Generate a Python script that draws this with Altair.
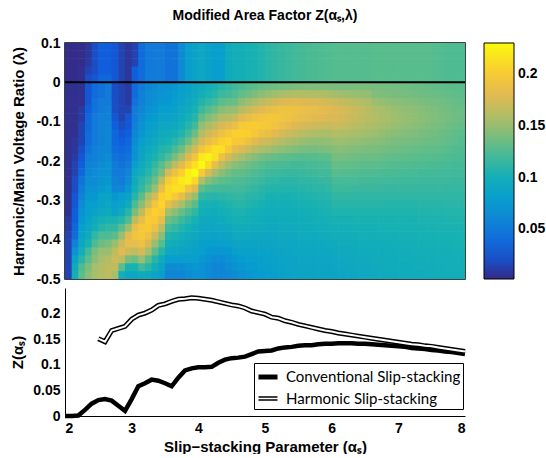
import altair as alt
import pandas as pd

# ---------------- heatmap data ----------------
# cell left edges along alpha_s (step 0.1) and lower edges along lambda (step 0.02)
ALPHA_LEFT = [round(2.0 + 0.1 * i, 2) for i in range(60)]
LAMBDA_LOW = [round(-0.5 + 0.02 * j, 2) for j in range(30)]

# Z in hundredths, one list per alpha column.
# Z_BELOW: 25 cells from lambda=-0.5 up to 0 ; Z_ABOVE: 5 cells from 0 up to 0.1
Z_BELOW = [
    [1.5,1.5,1.5,1.5,1.5,1.5,1,1,0.5,0.5,0.5,0.5,0.5,0.5,0.5,0.5,0.5,0.5,0.5,0.5,0.5,0.5,0.5,0.5,0.5],
    [10,9.5,8.5,7,5.5,4,3.5,3,3,2.5,2.5,2,2,1.5,1.5,1,0.8,0.8,0.5,0.5,0.5,0.5,0.5,0.5,0.5],
    [13,12.5,11,10,9,8.5,8,7.5,7,6.5,5.5,5,4.5,3.5,3,2.5,2,1.5,1.5,1.5,1,1,0.5,0.5,0.5],
    [14.5,14,13,12,10.5,9.5,9,8.5,8,8,7.5,7,6.5,6,5.5,5,4.5,4,4,3.5,3.5,3,2.5,2.5,2.5],
    [15.5,15.5,14.5,14,12.5,11.5,10,9.5,8.5,8,7.5,7,6.5,6.5,6,5.5,5.5,5,5,5,5,4.5,4.5,4,4],
    [16,16,15.5,15,13.5,12.5,11,10,9,8.5,8.5,7.5,7,7,6.5,6,6,5.5,5.5,5.5,5.5,5,5,4.5,4.5],
    [16.5,16.5,16,15,14,12.5,11.5,10.5,9.5,9,8.5,8,7.5,7,7,6.5,6,6,6,6,5.5,5.5,5,5,5],
    [15.5,16.5,17,16.5,15,13,11.5,10.5,8.5,8,7.5,6,5.5,5,5,4.5,4,3.5,3.5,3,2.5,2,2,2,2],
    [10,13,16.5,18,17,15,13,11,9.5,8.5,8,6,5,5,4.5,4,3.5,3,2.5,2,1.5,1.5,1.5,1.5,1.5],
    [9,10.5,14,17,18.5,18,15,12.5,11,9.5,8.5,7.5,6.5,6,5,4.5,4,3.5,3,2.5,2.5,1.5,1,1,1],
    [9,10.5,13.5,16.5,18.5,19.3,18.5,16.5,14,12.5,11,10,9.5,9,8,7,7,6.5,6,5.5,5,5,4.5,4,4],
    [9.5,12,15,17.5,19,19.8,19.8,18.5,16.5,14.5,13,11.5,11,10,9.5,8.8,8.5,8,7.5,7,6.5,6,5.5,5.5,5],
    [9.3,11,13,15.5,17.5,19,20,20.2,19.5,17,15.5,13,12,11,10.5,9.8,9.2,8.8,8.3,8,7.5,7,6.5,6.5,6],
    [8.7,9.8,11,13,15,17,18.8,20,20.5,19.5,17.5,15,13.5,12.3,11.5,10.5,10,9.2,8.8,8.3,7.8,7.3,7,6.8,6.5],
    [8,8.8,9.5,11,12.8,14.5,16.5,18.5,20,20.8,20.5,18.5,16.5,14,12.8,11.5,10.8,10,9.5,9,8.5,8,7.5,7,7],
    [6,6.5,8,9.2,10,10.8,12,13.5,15.5,18.5,21,21,20,17.5,14.5,12.5,11.2,10.3,9.6,9,8.5,8,7.5,7.3,7],
    [6,6.5,8,9,9.7,10.5,11.5,12.8,14.5,17,20,21.5,21,19,16.5,14,12.3,11,10,9.3,8.8,8.3,8,7.7,7.5],
    [6,6.5,8,8.7,9.3,10,10.8,11.8,13.3,15.5,18.5,21.3,22,20.5,18,15.5,13.5,12,10.8,10,9.5,9,8.5,8.3,8],
    [6.5,7,8,8.6,9,9.5,10.2,11,12.3,14,16.5,19.5,22.3,22.3,20,17.8,15.5,13.5,12,11,10.2,9.5,9,8.7,8.5],
    [7,7.3,8,8.4,8.8,9.2,9.6,10.3,11.3,12.8,15,18,21,23,21.5,19.5,17.3,15.3,13.5,12,11,10.3,9.8,9.3,9],
    [7,7,7.5,8,8.2,8.7,9,9.3,10,10.5,11.3,13,16,20,23,22,19.5,17.5,16,14.8,13.2,11.8,10.8,10,9.5],
    [6.5,6.5,7,7.5,8.2,8.6,9,9.3,9.8,10.4,11.2,12.3,14.3,17.5,21,22.5,20.5,18.5,17,15.7,14.2,12.7,11.5,10.6,10],
    [6,6,6.5,7.3,8,8.5,9,9.3,9.7,10.2,11,12,13.5,15.5,18.5,21.5,21.5,19.5,18,16.5,15,13.5,12,11,10.5],
    [6,6,6.5,7.3,8,8.6,9,9.5,10,10.5,11.2,12,13,14.5,16.5,19,21.3,20.5,19,17.5,16,14.5,13,11.8,11],
    [6.2,6.5,7,7.5,8.3,8.8,9.3,9.8,10.2,10.7,11.3,12,12.8,13.8,15.3,17.5,20,20.8,19.7,18,16.3,14.8,13.3,12,11.5],
    [6.5,7,7.5,8.2,8.8,9.3,9.7,10.2,10.6,11,11.5,12,12.5,13.2,14.5,16.3,18.3,20,20.5,18.8,16.8,15,13.5,12.5,12],
    [7,7.3,7.8,8.3,8.8,9.3,9.7,10.2,10.6,11,11.5,12,12.5,13.1,14,15.5,17.8,19.8,20.6,19.9,18,16.2,14.6,13.2,12.4],
    [7.3,7.6,8,8.4,8.8,9.2,9.6,10,10.4,10.8,11.2,11.7,12.2,12.8,13.6,14.8,17,19,20.3,20.1,18.7,16.9,15.2,13.6,12.7],
    [7.6,7.8,8.1,8.4,8.8,9.1,9.5,9.9,10.2,10.6,11,11.5,12,12.5,13.2,14.3,16.3,18.1,19.8,20.1,19.1,17.5,15.8,14.1,13],
    [7.8,8,8.2,8.5,8.8,9.1,9.4,9.7,10,10.4,10.8,11.2,11.7,12.2,12.8,13.8,15.8,17.4,19,19.9,19.4,18,16.4,14.6,13.3],
    [8,8.2,8.4,8.6,8.8,9,9.3,9.5,9.8,10,10.4,10.9,11.4,11.9,12.5,13.5,15.4,17,18.7,19.7,19.6,18.5,16.9,15,13.5],
    [8.2,8.3,8.5,8.7,8.9,9.1,9.3,9.5,9.8,10.1,10.4,10.8,11.3,11.8,12.4,13.3,15,16.5,18.1,19.3,19.6,18.9,17.3,15.3,13.6],
    [8.4,8.5,8.6,8.8,9,9.2,9.4,9.6,9.8,10.1,10.4,10.8,11.2,11.7,12.3,13.1,14.7,16,17.5,18.8,19.4,19.1,17.7,15.6,13.7],
    [8.5,8.6,8.7,8.9,9.1,9.3,9.5,9.7,9.9,10.1,10.4,10.8,11.2,11.6,12.2,12.9,14.4,15.6,17,18.3,19.1,19.1,17.9,15.8,13.8],
    [8.7,8.7,8.8,9,9.1,9.3,9.5,9.7,9.9,10.2,10.5,10.8,11.2,11.6,12.1,12.8,14.2,15.3,16.6,17.8,18.8,19,18,16,14],
    [8.8,8.8,8.9,9.1,9.2,9.4,9.6,9.8,10,10.3,10.6,10.9,11.3,11.7,12.1,12.7,14,15,16.3,17.5,18.5,18.8,17.9,16,14.1],
    [8.8,8.8,8.9,9.1,9.3,9.5,9.7,9.9,10.1,10.4,10.7,11,11.4,11.8,12.2,12.7,13.9,14.8,16,17.3,18.3,18.6,17.8,16,14.1],
    [8.8,8.8,8.9,9.1,9.3,9.5,9.8,10,10.2,10.5,10.8,11.1,11.5,11.9,12.3,12.8,13.9,14.7,15.8,17.1,18.1,18.5,17.7,16,14.1],
    [8.8,8.8,8.9,9.1,9.3,9.6,9.9,10.1,10.4,10.6,10.9,11.2,11.6,12,12.4,12.9,14,14.7,15.7,16.9,17.9,18.2,17.5,15.9,14.1],
    [8.8,8.8,8.9,9.1,9.4,9.7,10,10.2,10.5,10.7,11,11.3,11.7,12.1,12.5,13,14.1,14.8,15.7,16.8,17.7,18,17.3,15.7,14.1],
    [8.8,8.9,9.1,9.3,9.5,9.8,10.1,10.4,10.7,11,11.4,11.8,12.3,12.8,13.3,13.9,14.3,15.1,16,17,17.7,17.8,17,15.4,14],
    [8.9,9,9.2,9.4,9.6,9.8,10.1,10.4,10.7,11,11.4,11.8,12.2,12.7,13.2,13.8,14.4,15.1,15.9,16.8,17.4,17.5,16.7,15.2,14],
    [9,9.1,9.3,9.4,9.6,9.9,10.1,10.4,10.7,11,11.4,11.8,12.2,12.7,13.2,13.7,14.3,15,15.8,16.6,17.1,17.2,16.5,15.1,14],
    [9.1,9.2,9.4,9.5,9.7,9.9,10.2,10.5,10.7,11,11.3,11.7,12.2,12.6,13.1,13.6,14.2,14.8,15.6,16.3,16.8,16.9,16.2,15,14],
    [9.2,9.3,9.4,9.6,9.8,10,10.2,10.5,10.7,11,11.3,11.7,12.1,12.5,13,13.5,14.1,14.7,15.4,16.1,16.5,16.6,16,14.9,14],
    [9.2,9.3,9.5,9.6,9.8,10,10.2,10.5,10.7,11,11.3,11.7,12.1,12.5,13,13.5,14,14.6,15.2,15.8,16.2,16.3,15.8,14.8,14],
    [9.3,9.4,9.6,9.7,9.8,10,10.2,10.5,10.7,11,11.3,11.7,12.1,12.5,12.9,13.4,14,14.5,15.1,15.7,16,15.8,15.1,14.2,13.9],
    [9.4,9.5,9.6,9.7,9.9,10.1,10.3,10.5,10.7,11,11.3,11.7,12,12.4,12.8,13.3,13.8,14.3,14.9,15.4,15.7,15.5,14.9,14.1,13.9],
    [9.5,9.6,9.7,9.8,9.9,10.1,10.3,10.5,10.7,10.9,11.3,11.6,12,12.3,12.7,13.2,13.7,14.1,14.6,15.2,15.5,15.3,14.7,14,13.8],
    [9.5,9.6,9.7,9.8,10,10.1,10.3,10.5,10.7,10.9,11.3,11.6,11.9,12.3,12.6,13.1,13.6,14,14.4,15,15.2,15,14.5,13.9,13.8],
    [9.6,9.7,9.8,9.9,10,10.2,10.4,10.5,10.7,10.9,11.3,11.6,11.9,12.2,12.6,13,13.5,13.9,14.3,14.8,15,14.8,14.4,13.9,13.7],
    [9.6,9.7,9.8,9.9,10,10.2,10.4,10.5,10.7,10.9,11.3,11.6,11.9,12.2,12.6,13,13.4,13.8,14.2,14.7,14.9,14.7,14.3,13.8,13.6],
    [9.7,9.8,9.9,10,10.1,10.2,10.4,10.5,10.7,10.9,11.3,11.6,11.9,12.2,12.5,12.9,13.3,13.7,14.1,14.5,14.7,14.6,14.2,13.7,13.5],
    [9.7,9.8,9.9,10,10.1,10.3,10.4,10.6,10.8,11,11.3,11.6,11.8,12.1,12.5,12.8,13.2,13.6,13.9,14.3,14.5,14.4,14,13.6,13.4],
    [9.8,9.9,10,10.1,10.2,10.3,10.5,10.6,10.8,11,11.3,11.6,11.8,12.1,12.4,12.8,13.1,13.5,13.8,14.1,14.3,14.2,13.9,13.5,13.3],
    [9.8,9.9,10,10.1,10.2,10.3,10.5,10.6,10.8,11,11.3,11.6,11.8,12.1,12.4,12.7,13.1,13.4,13.7,14,14.2,14.1,13.8,13.4,13.2],
    [9.8,9.9,10,10.1,10.2,10.3,10.5,10.6,10.8,11,11.3,11.6,11.8,12,12.3,12.6,13,13.3,13.5,13.8,14,13.9,13.7,13.3,13.1],
    [9.9,10,10,10.1,10.2,10.4,10.5,10.7,10.9,11.1,11.3,11.5,11.8,12,12.2,12.5,12.8,13.1,13.3,13.6,13.8,13.7,13.5,13.2,13],
    [9.9,10,10.1,10.2,10.3,10.4,10.5,10.7,10.9,11.1,11.3,11.5,11.7,11.9,12.1,12.4,12.6,12.9,13.1,13.4,13.6,13.5,13.3,13.1,12.9],
    [9.9,10,10.1,10.2,10.3,10.4,10.5,10.7,10.9,11.1,11.3,11.5,11.7,11.9,12.1,12.3,12.5,12.7,12.9,13.2,13.4,13.4,13.2,13,12.8],
]
Z_ABOVE = [
    [0.3,0.3,0.3,0.3,0.3], [0.3,0.3,0.3,0.3,0.3], [0.5,0.5,0.3,0.3,0.3], [2,1.5,1,0.8,0.8],
    [2.5,2,2,2,2], [3.5,3,3,3,3], [3.5,3,3,3,3], [2.5,2.5,2.5,2.5,2.5],
    [1.5,1.5,1.5,1.5,1.5], [0.8,0.8,0.8,0.8,0.8], [3,3,1.5,1.5,1.5], [4,4,4,4,4],
    [5,5,5,5,5], [5,5,5,5,5], [5,5,5,5,5], [4.5,4.5,4.5,4.5,4.5],
    [4.5,4.5,4.5,4.5,4.5], [6.5,6.5,6.5,6.5,6.5], [8,8,8,8,8], [8.5,8.5,8.5,8.5,8.5],
    [9,9,9,9,9], [8.5,8.5,8.5,8.5,8.5], [8,8,8,8,8], [8,8,8,8,8],
    [9.5,9.5,9.5,9.5,9.5], [10,10,10,10,10], [10,10,10,10,10], [10.3,10.3,10.3,10.3,10.3],
    [10.5,10.5,10.5,10.5,10.5], [10.8,10.8,10.8,10.8,10.8], [11.2,11.2,11.2,11.2,11.2], [11.4,11.4,11.4,11.4,11.4],
    [11.6,11.6,11.6,11.6,11.6], [11.8,11.8,11.8,11.8,11.8], [12,12,12,12,12], [12.1,12.1,12.1,12.1,12.1],
    [12.3,12.3,12.3,12.3,12.3], [12.4,12.4,12.4,12.4,12.4], [12.5,12.5,12.5,12.5,12.5], [12.6,12.6,12.6,12.6,12.6],
    [12.7,12.7,12.7,12.7,12.7], [12.7,12.7,12.7,12.7,12.7], [12.7,12.7,12.7,12.7,12.7], [12.7,12.7,12.7,12.7,12.7],
    [12.7,12.7,12.7,12.7,12.7], [12.7,12.7,12.7,12.7,12.7], [12.8,12.8,12.8,12.8,12.8], [12.8,12.8,12.8,12.8,12.8],
    [12.8,12.8,12.8,12.8,12.8], [12.8,12.8,12.8,12.8,12.8], [12.8,12.8,12.8,12.8,12.8], [12.8,12.8,12.8,12.8,12.8],
    [12.8,12.8,12.8,12.8,12.8], [12.8,12.8,12.8,12.8,12.8], [12.8,12.8,12.8,12.8,12.8], [12.7,12.7,12.7,12.7,12.7],
    [12.6,12.6,12.6,12.6,12.6], [12.5,12.5,12.5,12.5,12.5], [12.5,12.5,12.5,12.5,12.5], [12.5,12.5,12.5,12.5,12.5],
]

# ---------------- line data ----------------
CONV_ALPHA = [2.0,2.1,2.2,2.3,2.4,2.5,2.6,2.7,2.8,2.9,3.0,3.1,3.2,3.3,3.4,3.5,3.6,3.7,3.8,3.9,
              4.0,4.1,4.2,4.3,4.4,4.5,4.6,4.7,4.8,4.9,5.0,5.1,5.2,5.3,5.4,5.5,5.6,5.7,5.8,5.9,
              6.0,6.1,6.2,6.3,6.4,6.5,6.6,6.7,6.8,6.9,7.0,7.1,7.2,7.3,7.4,7.5,7.6,7.7,7.8,7.9,8.0]
CONV_Z = [0,0,0.001,0.012,0.024,0.031,0.033,0.03,0.02,0.01,
          0.033,0.058,0.064,0.071,0.069,0.064,0.058,0.075,0.089,0.093,
          0.095,0.095,0.096,0.104,0.11,0.113,0.114,0.116,0.121,0.126,
          0.127,0.128,0.132,0.134,0.135,0.137,0.138,0.138,0.14,0.141,
          0.141,0.142,0.142,0.142,0.141,0.141,0.14,0.139,0.138,0.137,
          0.136,0.135,0.133,0.132,0.131,0.129,0.128,0.126,0.125,0.123,0.121]

HARM_ALPHA = [2.5,2.6,2.7,2.8,2.9,3.0,3.1,3.2,3.3,3.4,3.5,3.6,3.7,3.8,3.9,
              4.0,4.1,4.2,4.3,4.4,4.5,4.6,4.7,4.8,4.9,5.0,5.1,5.2,5.3,5.4,5.5,5.6,5.7,5.8,5.9,
              6.0,6.1,6.2,6.3,6.4,6.5,6.6,6.7,6.8,6.9,7.0,7.1,7.2,7.3,7.4,7.5,7.6,7.7,7.8,7.9,8.0]
HARM_Z = [0.151,0.145,0.167,0.171,0.175,
          0.189,0.197,0.201,0.207,0.216,0.219,0.224,0.228,0.229,0.231,
          0.23,0.228,0.226,0.223,0.22,0.217,0.215,0.211,0.205,0.202,
          0.199,0.193,0.191,0.186,0.183,0.179,0.176,0.173,0.17,0.167,
          0.165,0.162,0.16,0.158,0.156,0.154,0.152,0.15,0.148,0.146,
          0.144,0.142,0.14,0.139,0.137,0.136,0.134,0.132,0.13,0.128,0.126]

SERIES = ["Conventional Slip-stacking", "Harmonic Slip-stacking"]

LAMBDA_TICKS = [-0.5, -0.4, -0.3, -0.2, -0.1, 0, 0.1]
Z_TICKS = [0, 0.05, 0.1, 0.15, 0.2]
ALPHA_TICKS = [2, 3, 4, 5, 6, 7, 8]
CBAR_TICKS = [0.05, 0.1, 0.15, 0.2]

PARULA = ["#352A87", "#0F5CDD", "#127DD8", "#079CCF", "#15B1B4",
          "#59BD8C", "#A5BE6B", "#E1B952", "#FCCE2E", "#F9FB0E"]

FONT = "Liberation Sans"

# ---------------- tables ----------------
assert len(Z_BELOW) == 60 and all(len(c) == 25 for c in Z_BELOW)
assert len(Z_ABOVE) == 60 and all(len(c) == 5 for c in Z_ABOVE)
cells = []
for i, a in enumerate(ALPHA_LEFT):
    column = Z_BELOW[i] + Z_ABOVE[i]
    for j, lam in enumerate(LAMBDA_LOW):
        cells.append({"a0": a, "a1": round(a + 0.1, 2), "l0": lam,
                      "l1": round(lam + 0.02, 2), "z": column[j] / 100.0})
heat_df = pd.DataFrame(cells)
conv_df = pd.DataFrame({"alpha": CONV_ALPHA, "z": CONV_Z})
harm_df = pd.DataFrame({"alpha": HARM_ALPHA, "z": HARM_Z})
legend_df = pd.DataFrame({"series": SERIES})
zero_df = pd.DataFrame({"lam": [0.0]})

# ---------------- top: heatmap ----------------
lam_scale = alt.Scale(domain=[-0.5, 0.1], nice=False, zero=False)
lam_axis = alt.Axis(values=LAMBDA_TICKS, title="Harmonic/Main Voltage Ratio (λ)",
                    labelExpr="replace(format(datum.value, '.1~f'), '\u2212', '-')",
                    domain=False, ticks=False, labelPadding=5, titlePadding=9,
                    labelOverlap=False, labelBound=False, labelFlush=False)

heat = alt.Chart(heat_df).mark_rect(x2Offset=0.6, y2Offset=-0.6, clip=True).encode(
    x=alt.X("a0:Q", scale=alt.Scale(domain=[2, 8], nice=False, zero=False), axis=None),
    x2="a1:Q",
    y=alt.Y("l0:Q", scale=lam_scale, axis=lam_axis),
    y2="l1:Q",
    color=alt.Color("z:Q",
                    scale=alt.Scale(domain=[0.002, 0.23], range=PARULA, clamp=True,
                                    interpolate="rgb"),
                    legend=alt.Legend(title=None, orient="right", offset=9, direction="vertical",
                                      type="gradient", padding=0,
                                      gradientLength=236, gradientThickness=30,
                                      gradientStrokeColor="black", gradientStrokeWidth=1,
                                      values=CBAR_TICKS, format=".2~f", labelFont=FONT,
                                      labelFontSize=14, labelFontWeight="bold", labelColor="black",
                                      labelOffset=4, labelOverlap=False)),
)

zero_line = alt.Chart(zero_df).mark_rule(color="black", strokeWidth=2).encode(
    y=alt.Y("lam:Q", scale=lam_scale, axis=lam_axis))

top = alt.layer(heat, zero_line).properties(
    width=400, height=236,
    title=alt.TitleParams("Modified Area Factor Z(αₛ,λ)", font=FONT, fontSize=14,
                          fontWeight="bold", color="black", anchor="middle", frame="group",
                          offset=13),
    view=alt.ViewBackground(stroke="black", strokeWidth=1.5),
)

# ---------------- bottom: lines ----------------
xenc = alt.X("alpha:Q", scale=alt.Scale(domain=[2, 8], nice=False, zero=False),
             axis=alt.Axis(values=ALPHA_TICKS, format="d", title="Slip−stacking Parameter (αₛ)",
                           ticks=False, labelPadding=5, titlePadding=4))
yenc = alt.Y("z:Q", scale=alt.Scale(domain=[0, 0.25], nice=False),
             axis=alt.Axis(values=Z_TICKS, format=".2~f", title="Z(αₛ)",
                           ticks=False, labelPadding=5, titlePadding=7, labelOverlap=False))

conv = alt.Chart(conv_df).mark_line(color="black", strokeWidth=4.5).encode(x=xenc, y=yenc)
harm_outer = alt.Chart(harm_df).mark_line(color="black", strokeWidth=5).encode(x=xenc, y=yenc)
harm_inner = alt.Chart(harm_df).mark_line(color="white", strokeWidth=2).encode(x=xenc, y=yenc)

leg = alt.Legend(title=None, orient="none", legendX=189, legendY=320, strokeColor="black",
                 fillColor="white", padding=2, labelFont="Lato", labelFontSize=15,
                 labelFontWeight="normal", labelColor="black", symbolSize=361, rowPadding=1,
                 symbolStrokeColor="black", symbolFillColor="transparent", symbolOpacity=1,
                 labelOffset=6, labelLimit=320)
legend_pts = alt.Chart(legend_df).mark_point(filled=False, stroke="black", opacity=1).encode(
    shape=alt.Shape("series:N", scale=alt.Scale(domain=SERIES,
                    range=["M-1,0L1,0", "M-1,-0.16L1,-0.16M-1,0.16L1,0.16"]), legend=leg),
    strokeWidth=alt.StrokeWidth("series:N", scale=alt.Scale(type="ordinal", domain=SERIES,
                                range=[5, 1.3]), legend=leg),
).transform_filter("false")

bottom = alt.layer(conv, harm_outer, harm_inner, legend_pts).properties(width=400, height=128)

chart = alt.vconcat(top, bottom, spacing=0).properties(
    padding={"left": 10, "top": 8, "right": 0, "bottom": 0},
    background="white",
).configure_axis(
    labelFont=FONT, labelFontSize=14, labelFontWeight="bold", labelColor="black",
    titleFont=FONT, titleFontSize=15, titleFontWeight="bold", titleColor="black",
    domainColor="black", domainWidth=1, grid=False,
).configure_view(stroke=None)

chart.save("out.html", embed_options={"renderer": "svg", "actions": False})
